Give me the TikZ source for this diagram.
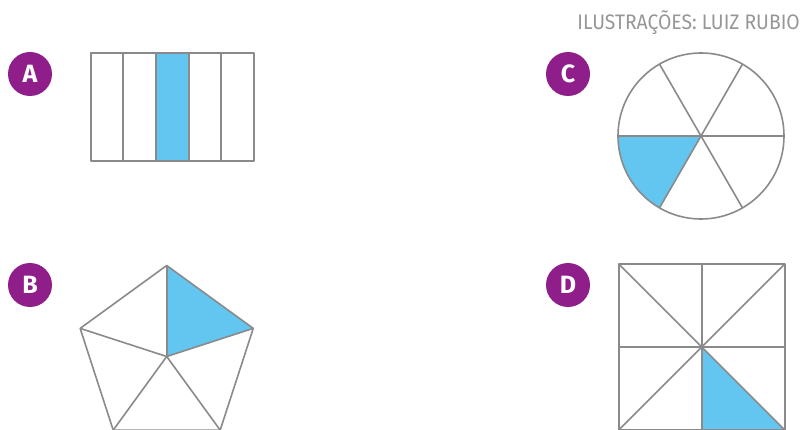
\documentclass[tikz,border=0pt]{standalone}
\usepackage{fontspec}
\setmainfont{Fira Sans}
\definecolor{badgepurple}{RGB}{143, 29, 138}
\definecolor{partblue}{RGB}{99, 198, 240}
\definecolor{edgegray}{RGB}{138, 138, 138}
\definecolor{creditgray}{RGB}{150, 150, 150}
\usetikzlibrary{calc}
\tikzset{
  badge/.style={circle, fill=badgepurple, minimum size=44pt, inner sep=0pt, text=white, font=\fontsize{25}{25}\selectfont\bfseries},
  figline/.style={draw=edgegray, line width=1.6pt, line join=round},
  partfill/.style={fill=partblue},
}
\begin{document}
\begin{tikzpicture}[x=1pt, y=1pt]
  \useasboundingbox (0,0) rectangle (804,429);
  \node[anchor=east, text=creditgray, font=\fontsize{21}{21}\selectfont, xscale=0.92, inner sep=0pt] (credit) at (800,406) {ILUSTRAÇÕES: LUIZ RUBIO};
  % A: rectangle in fifths
  \node[badge] (a) at (30,355) {A};
  \fill[partfill] (156,268) rectangle (189,376);
  \foreach \x in {123,156,189,221} \draw[figline] (\x,268) -- (\x,376);
  \draw[figline] (91,268) rectangle (254,376);
  % C: circle in sixths
  \node[badge] (c) at (568,355) {C};
  \coordinate (co) at (701,293);
  \fill[partfill] (co) -- ($(co)+(180:83)$) arc[start angle=180, end angle=240, radius=83] -- cycle;
  \foreach \a in {0,60,120} \draw[figline] ($(co)+(\a:83)$) -- ($(co)+(\a+180:83)$);
  \draw[figline] (co) circle[radius=83];
  % B: pentagon in fifths
  \node[badge] (b) at (30,144) {B};
  \coordinate (bo) at (166.7,72.5);
  \fill[partfill] (bo) -- ($(bo)+(90:91)$) -- ($(bo)+(18:91)$) -- cycle;
  \foreach \a in {18,90,162,234,306} \draw[figline] (bo) -- ($(bo)+(\a:91)$);
  \draw[figline] ($(bo)+(18:91)$) \foreach \a in {90,162,234,306} {-- ($(bo)+(\a:91)$)} -- cycle;
  % D: square in eighths
  \node[badge] (d) at (568,144) {D};
  \coordinate (do) at (701.7,82);
  \fill[partfill] (do) -- ($(do)+(0,-83)$) -- ($(do)+(83,-83)$) -- cycle;
  \draw[figline] ($(do)+(-83,0)$) -- ($(do)+(83,0)$);
  \draw[figline] ($(do)+(0,-83)$) -- ($(do)+(0,83)$);
  \draw[figline] ($(do)+(-83,-83)$) -- ($(do)+(83,83)$);
  \draw[figline] ($(do)+(-83,83)$) -- ($(do)+(83,-83)$);
  \draw[figline] ($(do)+(-83,-83)$) rectangle ($(do)+(83,83)$);
\end{tikzpicture}
\end{document}
